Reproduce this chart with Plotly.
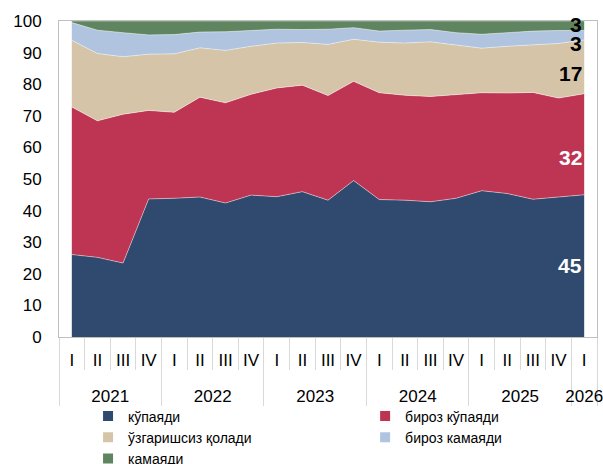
import plotly.graph_objects as go

# кварталлар ва йиллар
years = ["2021"] * 4 + ["2022"] * 4 + ["2023"] * 4 + ["2024"] * 4 + ["2025"] * 4 + ["2026"]
quarters = ["I", "II", "III", "IV"] * 5 + ["I"]

kupayadi = [26.1, 25.2, 23.4, 43.7, 43.9, 44.3, 42.4, 44.9, 44.4, 46.0, 43.3,
            49.5, 43.5, 43.3, 42.8, 43.9, 46.3, 45.4, 43.6, 44.3, 45.0]
biroz_kupayadi = [46.7, 43.2, 47.1, 28.0, 27.2, 31.6, 31.7, 31.9, 34.4, 33.7, 33.1,
                  31.4, 33.8, 33.2, 33.3, 32.8, 31.0, 31.8, 33.8, 31.3, 32.0]
uzgarishsiz = [21.1, 21.3, 18.2, 17.8, 18.5, 15.6, 16.6, 15.2, 14.2, 13.5, 16.2,
               13.3, 16.0, 16.5, 17.3, 15.7, 14.1, 14.8, 15.1, 17.3, 17.0]
biroz_kamayadi = [5.6, 7.4, 7.6, 6.1, 6.1, 5.0, 5.9, 5.0, 4.4, 4.1, 4.8,
                  3.7, 3.5, 4.1, 3.9, 3.9, 4.4, 4.3, 4.3, 4.1, 3.0]
kamayadi = [0.5, 2.9, 3.7, 4.4, 4.3, 3.5, 3.4, 3.0, 2.6, 2.7, 2.6,
            2.1, 3.2, 2.9, 2.7, 3.7, 4.2, 3.7, 3.2, 3.0, 3.0]

# номи, қийматлар, ранг, ёзув ранги, ёзув силжиши, легенда устуни
series = [
    ("кўпаяди", kupayadi, "#2F4A6E", "white", 0, "legend"),
    ("бироз кўпаяди", biroz_kupayadi, "#BE3453", "white", -13, "legend2"),
    ("ўзгаришсиз қолади", uzgarishsiz, "#D5C4A8", "black", -7, "legend"),
    ("бироз камаяди", biroz_kamayadi, "#B0C4E0", "black", -8, "legend2"),
    ("камаяди", kamayadi, "#5F8560", "black", 1, "legend"),
]

# йил ёзувлари бир қатор пастроқда
year_labels = ["<br>" + y for y in years]

fig = go.Figure()
for name, vals, color, _, _, _ in series:
    fig.add_trace(go.Scatter(
        x=[year_labels, quarters], y=vals, name=name,
        mode="lines", stackgroup="one", showlegend=False,
        line=dict(color="rgba(255,255,255,0.55)", width=0.8),
        fillcolor=color,
    ))

# легенда учун кичик квадратлар (икки устун)
for name, vals, color, _, _, leg in series:
    fig.add_trace(go.Scatter(
        x=[year_labels[:1], quarters[:1]], y=[None], name=name,
        mode="markers", marker=dict(symbol="square", size=10, color=color),
        hoverinfo="skip", legend=leg,
    ))

# охирги нуқтадаги қийматлар
base = 0
for name, vals, color, tcol, shift, _ in series:
    v = vals[-1]
    fig.add_annotation(
        x=len(years) - 1, y=base + v / 2, xref="x", yref="y",
        text=f"{v:.0f}", showarrow=False, xanchor="right", yshift=shift,
        font=dict(family="Liberation Sans", size=21, color=tcol, weight="bold"),
    )
    base += v

leg_style = dict(
    orientation="v", yref="container", y=0.137,
    xanchor="left", yanchor="top", bgcolor="rgba(0,0,0,0)",
    font=dict(size=14), traceorder="normal", tracegroupgap=0,
)

fig.update_layout(
    width=603, height=464,
    margin=dict(l=59, r=6, t=21, b=127),
    plot_bgcolor="white", paper_bgcolor="white",
    font=dict(family="Liberation Sans", size=17, color="black"),
    showlegend=True,
    legend=dict(x=0.054, **leg_style),
    legend2=dict(x=0.569, **leg_style),
)
fig.update_xaxes(
    type="multicategory", range=[-0.5, 20.5], automargin=False,
    showline=True, linecolor="#BFBFBF", linewidth=1, mirror=True,
    ticks="outside", tickson="boundaries", ticklen=32, tickcolor="#D9D9D9",
    showdividers=True, dividercolor="#D9D9D9", dividerwidth=1,
    tickfont=dict(size=17), ticklabelstandoff=8, tickangle=0,
    showgrid=False,
)
fig.update_yaxes(
    range=[0, 100], dtick=10, automargin=False,
    showline=True, linecolor="#BFBFBF", linewidth=1, mirror=True,
    ticks="", tickfont=dict(size=17), ticklabelstandoff=13,
    showgrid=False, zeroline=False,
)

fig.write_html("out.html", config={"displayModeBar": False},
               post_script="document.body.style.margin='0';")
